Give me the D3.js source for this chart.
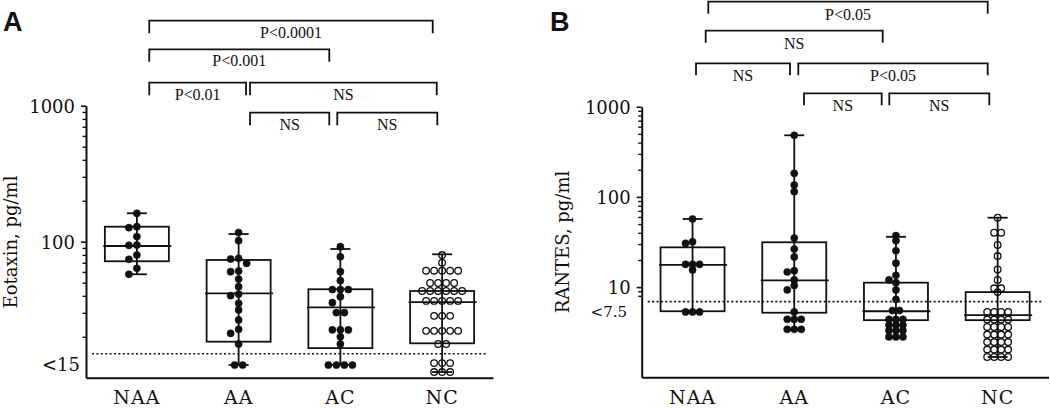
<!DOCTYPE html>
<html><head><meta charset="utf-8">
<script src="https://cdn.jsdelivr.net/npm/d3@7"></script>
<style>body{margin:0;background:#fff}svg{display:block}</style>
</head><body><svg id="chart" width="1050" height="409"></svg>
<script>
// ---------------- DATA ----------------
const categories = ['NAA', 'AA', 'AC', 'NC'];

// Panel A: Eotaxin, pg/ml (individual subjects)
const eotaxinNAA = [161.8, 129, 126.8, 109, 94.6, 94, 79.8, 74.2, 63.7, 57.6];
const eotaxinAA  = [116.9, 101.7, 75.5, 74.6, 69.4, 60.9, 60.2, 53.2, 46.7, 41.2, 40.1, 35.2, 31.5, 26.6, 22.7, 21.2, 17.7, 12.4, 12.4];
const eotaxinAC  = [91.9, 77.5, 60.2, 51.7, 44.5, 44.5, 44.5, 39.4, 35.6, 30.1, 30.1, 22.5, 22.5, 22.5, 20.0, 17.7, 12.4, 12.4, 12.4, 12.4];
const eotaxinNC  = [79.8, 70.1, 61.2, 61.2, 61.2, 61.2, 61.2, 49.7, 49.7, 49.7, 49.7,
                    43.4, 43.4, 43.4, 43.4, 43.4, 43.4, 36.7, 36.7, 36.7, 36.7, 36.7,
                    28.5, 28.5, 28.5, 22.1, 22.1, 22.1, 22.1, 22.1, 17.7, 17.7,
                    12.8, 12.8, 12.8, 11.0, 11.0, 11.0];
// box plots: min, Q1, median, Q3, max per category
const eotaxinMin = [57.6, 12.4, 12.4, 11.0];
const eotaxinQ1  = [71.8, 18.4, 16.5, 17.9];
const eotaxinMed = [93.0, 41.7, 32.9, 36.0];
const eotaxinQ3  = [128.9, 73.4, 44.7, 43.4];
const eotaxinMax = [161.8, 113.9, 88.4, 80.8];

// Panel B: RANTES, pg/ml
const rantesNAA = [56.9, 31.8, 30.6, 17.9, 17.9, 17.9, 15.5, 5.3, 5.3, 5.3];
const rantesAA  = [482, 182.7, 135.5, 114.3, 35.0, 26.4, 21.6, 15.2, 14.7, 12.0, 10.4, 9.3, 5.3, 4.4, 4.4, 4.4, 3.4, 3.4, 3.4];
const rantesAC  = [37.2, 32.7, 25.3, 18.4, 13.5, 12.0, 11.2, 9.3, 7.3, 5.5, 5.5,
                   4.4, 4.4, 4.4, 3.8, 3.8, 3.8, 3.3, 3.3, 3.3, 2.8, 2.8, 2.8];
const rantesNC  = [58.8, 40.1, 40.1, 29.3, 22.1, 15.7, 12.0, 9.7, 9.7, 8.8,
                   5.3, 5.3, 5.3, 5.3, 4.37, 4.37, 4.37, 4.37, 3.61, 3.61, 3.61, 3.61,
                   2.98, 2.98, 2.98, 2.98, 2.46, 2.46, 2.46, 2.46, 2.03, 2.03, 2.03, 2.03,
                   1.68, 1.68, 1.68, 1.68];
const rantesMin = [5.3, 3.4, 2.8, 1.68];
const rantesQ1  = [5.4, 5.2, 4.3, 4.3];
const rantesMed = [17.6, 11.9, 5.4, 4.9];
const rantesQ3  = [27.6, 31.4, 11.2, 8.8];
const rantesMax = [56.9, 482, 36.1, 58.8];

// axis ticks / labels
const eotaxinTicks = [100, 1000];
const eotaxinMinor = [20, 30, 40, 50, 60, 70, 80, 90, 200, 300, 400, 500, 600, 700, 800, 900];
const rantesTicks = [10, 100, 1000];
const rantesMinor = [8, 9, 20, 30, 40, 50, 60, 70, 80, 90, 200, 300, 400, 500, 600, 700, 800, 900];
const eotaxinLimitLabel = '<15';
const rantesLimitLabel = '<7.5';
const eotaxinLimit = 15;       // dotted detection line
const rantesLimit = 6.9;
const eotaxinLimitValue = 12.4; // where the "<15" values sit
const rantesLimitValue = 5.3;

// significance brackets: [from, to, label, row]
const eotaxinBrackets = [
  ['NAA', 'NC', 'P<0.0001', 0],
  ['NAA', 'AC', 'P<0.001', 1],
  ['NAA', 'AA', 'P<0.01', 2],
  ['AA', 'NC', 'NS', 2],
  ['AA', 'AC', 'NS', 3],
  ['AC', 'NC', 'NS', 3]
];
const rantesBrackets = [
  ['NAA', 'NC', 'P<0.05', 0],
  ['NAA', 'AC', 'NS', 1],
  ['NAA', 'AA', 'NS', 2],
  ['AA', 'NC', 'P<0.05', 2],
  ['AA', 'AC', 'NS', 3],
  ['AC', 'NC', 'NS', 3]
];

// ---------------- LAYOUT ----------------
const svg = d3.select('#chart');
const SERIF = 'DejaVu Serif, serif';
const BSERIF = 'Liberation Serif, serif';

function layoutPoints(values, y, step, minDist) {
  const groups = d3.groups(values, v => v).sort((a, b) => b[0] - a[0]);
  const placed = [];
  for (const [v, arr] of groups) {
    const n = arr.length, py = y(v);
    const base = d3.range(n).map(i => (i - (n - 1) / 2) * step);
    let chosen = base;
    for (let k = 0; k < 14; k++) {
      const s = (k === 0 ? 0 : (k % 2 ? -1 : 1) * Math.ceil(k / 2)) * step;
      const xs = base.map(b => b + s);
      const ok = xs.every(px => placed.every(p => Math.hypot(p.dx - px, p.y - py) >= minDist));
      if (ok) { chosen = xs; break; }
    }
    chosen.forEach(px => placed.push({ v, dx: px, y: py }));
  }
  return placed;
}

function drawPanel(cfg) {
  const g = svg.append('g');
  const x = d3.scaleBand().domain(categories).range([cfg.x0, cfg.x1]);
  const cx = c => x(c) + x.bandwidth() / 2;
  const y = d3.scaleLog().domain(cfg.domain).range([cfg.yBottom, cfg.yTop]);

  // y axis (major)
  const ya = g.append('g').attr('transform', `translate(${cfg.x0},0)`)
    .call(d3.axisLeft(y).tickValues(cfg.ticks).tickFormat(d3.format('d')).tickSize(5).tickSizeOuter(0).tickPadding(6));
  ya.select('.domain').attr('stroke', '#111').attr('stroke-width', 2);
  ya.selectAll('.tick line').attr('stroke', '#111').attr('stroke-width', 1.6);
  ya.selectAll('.tick text').attr('font-family', SERIF).attr('font-size', 18).attr('fill', '#111').attr('dy', '0.36em');
  // minor ticks
  const ym = g.append('g').attr('transform', `translate(${cfg.x0},0)`)
    .call(d3.axisLeft(y).tickValues(cfg.minor).tickFormat('').tickSize(3.5));
  ym.select('.domain').remove();
  ym.selectAll('.tick line').attr('stroke', '#111').attr('stroke-width', 1.4);

  // limit label
  g.append('text').attr('x', cfg.limitLabelX).attr('y', y(cfg.limitValue)).attr('dy', '0.36em')
    .attr('text-anchor', 'end').attr('font-family', SERIF).attr('font-size', cfg.limitFont)
    .attr('fill', '#111').text(cfg.limitLabel);

  // x axis
  const xa = g.append('g').attr('transform', `translate(0,${cfg.yBottom})`)
    .call(d3.axisBottom(x).tickSize(0).tickSizeOuter(0));
  xa.select('.domain').attr('stroke', '#111').attr('stroke-width', 2);
  xa.selectAll('.tick text').attr('font-family', SERIF).attr('font-size', 19)
    .attr('letter-spacing', 1).attr('fill', '#111').attr('y', 26.5).attr('dy', null);

  // y title
  g.append('text').attr('transform', `translate(${cfg.titleX},${cfg.titleY}) rotate(-90)`)
    .attr('text-anchor', 'middle').attr('font-family', SERIF).attr('font-size', 18)
    .attr('fill', '#111').text(cfg.title);

  // dotted detection line
  g.append('line').attr('x1', cfg.x0 + 6).attr('x2', cfg.x1 - 7)
    .attr('y1', y(cfg.limit)).attr('y2', y(cfg.limit))
    .attr('stroke', '#111').attr('stroke-width', 1.6).attr('stroke-dasharray', '2,2.4');

  // boxes
  const bw = 64, cap = 20;
  categories.forEach((c, i) => {
    const xc = cx(c);
    const bg = g.append('g').attr('stroke', '#111').attr('fill', 'none').attr('stroke-width', 1.8);
    bg.append('line').attr('x1', xc).attr('x2', xc).attr('y1', y(cfg.min[i])).attr('y2', y(cfg.max[i]));
    bg.append('line').attr('x1', xc - cap / 2).attr('x2', xc + cap / 2).attr('y1', y(cfg.max[i])).attr('y2', y(cfg.max[i]));
    bg.append('line').attr('x1', xc - cap / 2).attr('x2', xc + cap / 2).attr('y1', y(cfg.min[i])).attr('y2', y(cfg.min[i]));
    bg.append('rect').attr('x', xc - bw / 2).attr('width', bw)
      .attr('y', y(cfg.q3[i])).attr('height', y(cfg.q1[i]) - y(cfg.q3[i]));
    bg.append('line').attr('x1', xc - bw / 2 - 1.5).attr('x2', xc + bw / 2 + 2.5)
      .attr('y1', y(cfg.med[i])).attr('y2', y(cfg.med[i]));

    // points
    const pts = layoutPoints(cfg.series[i], y, cfg.step, cfg.minDist);
    const open = c === 'NC';
    g.append('g').selectAll('circle').data(pts).join('circle')
      .attr('cx', d => xc + d.dx).attr('cy', d => d.y)
      .attr('r', open ? 3.3 : 3.6)
      .attr('fill', open ? 'none' : '#111')
      .attr('stroke', '#111').attr('stroke-width', open ? 1.3 : 0.5);
  });

  // brackets
  cfg.brackets.forEach((b, k) => {
    const [from, to, label, row] = b;
    const [nl, nr] = cfg.bracketNudge[k];
    const xl = cx(from) + nl, xr = cx(to) + nr;
    const yl = cfg.rowY[row];
    g.append('path')
      .attr('d', `M${xl},${yl + cfg.leg}V${yl}H${xr}V${yl + cfg.leg}`)
      .attr('fill', 'none').attr('stroke', '#111').attr('stroke-width', 1.8);
    g.append('text').attr('x', (xl + xr) / 2).attr('y', yl + cfg.textDy)
      .attr('text-anchor', 'middle').attr('font-family', BSERIF).attr('font-size', 16)
      .attr('fill', '#111').text(label);
  });

  // panel letter
  svg.append('text').attr('x', cfg.letterX).attr('y', cfg.letterY)
    .attr('font-family', 'Liberation Sans, Arial, sans-serif').attr('font-weight', 'bold')
    .attr('font-size', 27).attr('fill', '#111').text(cfg.letter);
}

drawPanel({
  letter: 'A', letterX: 3, letterY: 31,
  x0: 86, x1: 493, yTop: 105.7, yBottom: 377.7, domain: [10, 1000],
  ticks: eotaxinTicks, minor: eotaxinMinor,
  limit: eotaxinLimit, limitValue: eotaxinLimitValue, limitLabel: eotaxinLimitLabel, limitLabelX: 80, limitFont: 18,
  title: 'Eotaxin, pg/ml', titleX: 17, titleY: 242,
  series: [eotaxinNAA, eotaxinAA, eotaxinAC, eotaxinNC],
  min: eotaxinMin, q1: eotaxinQ1, med: eotaxinMed, q3: eotaxinQ3, max: eotaxinMax,
  step: 8, minDist: 6,
  brackets: eotaxinBrackets,
  bracketNudge: [[12.4, -9.4], [12.4, -11.1], [12.4, 7.4], [11.4, -5.4], [11.4, -11.1], [-3.1, -4.8]],
  rowY: [20.7, 49.3, 82.7, 112.7], leg: 12.5, textDy: 16.8
});

drawPanel({
  letter: 'B', letterX: 550, letterY: 30.5,
  x0: 641.7, x1: 1048.5, yTop: 106.7, yBottom: 377.3, domain: [1, 1000],
  ticks: rantesTicks, minor: rantesMinor,
  limit: rantesLimit, limitValue: rantesLimitValue, limitLabel: rantesLimitLabel, limitLabelX: 627, limitFont: 15,
  title: 'RANTES, pg/ml', titleX: 569, titleY: 242,
  series: [rantesNAA, rantesAA, rantesAC, rantesNC],
  min: rantesMin, q1: rantesQ1, med: rantesMed, q3: rantesQ3, max: rantesMax,
  step: 7, minDist: 5,
  brackets: rantesBrackets,
  bracketNudge: [[15.75, -9.95], [13.15, -13.25], [3.45, -4.25], [4.05, -9.95], [9.75, -14.25], [-6.65, -8.35]],
  rowY: [1.7, 30.7, 63.3, 93.3], leg: 12, textDy: 17.8
});
</script>
</body></html>
